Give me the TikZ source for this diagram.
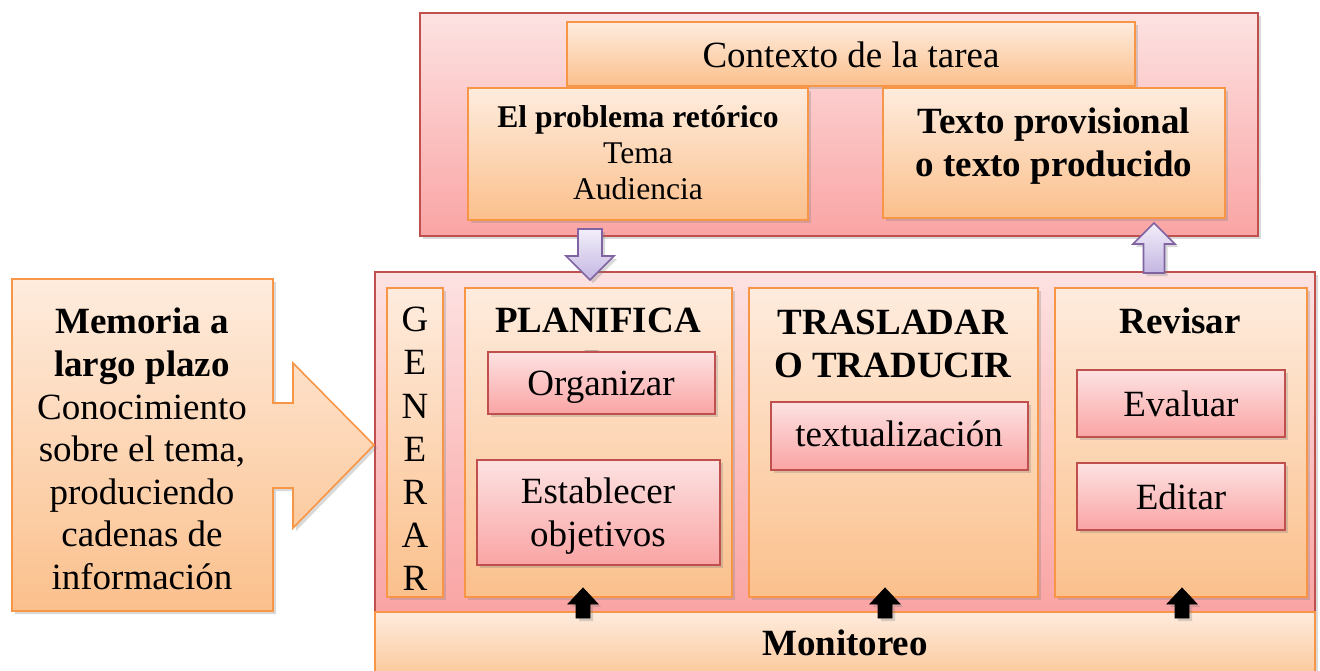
\documentclass[tikz,border=0pt]{standalone}
\usepackage{fontspec}
\setmainfont{Liberation Serif}
\usetikzlibrary{calc,fit,shadows}

\definecolor{boxred}{RGB}{192,80,77}
\definecolor{boxorange}{RGB}{247,150,70}
\definecolor{pinktop}{RGB}{253,226,226}
\definecolor{pinkbot}{RGB}{250,164,164}
\definecolor{peachtop}{RGB}{254,236,222}
\definecolor{peachbot}{RGB}{251,192,140}
\definecolor{lilactop}{RGB}{242,238,250}
\definecolor{lilacbot}{RGB}{196,182,226}
\definecolor{lilacline}{RGB}{128,100,162}

\def\blockarrow[#1](#2)(#3:#4:#5:#6){\draw[#1] (#2) -- ++({#4},{#5}) -- ++({(#3)-(#4)},0) -- ++(0,{(#6)-(#5)}) -- ++({-2*(#3)},0) -- ++(0,{(#5)-(#6)}) -- ++({(#3)-(#4)},0) -- cycle;}

\tikzset{
  softshadow/.style={drop shadow={opacity=0.3, shadow xshift=1.5pt, shadow yshift=-1.5pt}},
  pinkpanel/.style={draw=boxred, line width=0.8pt, top color=pinktop, bottom color=pinkbot, softshadow},
  peachpanel/.style={draw=boxorange, line width=0.8pt, top color=peachtop, bottom color=peachbot, softshadow},
  redbox/.style={draw=boxred, line width=0.8pt, top color=pinktop, bottom color=pinkbot, softshadow},
  lilacarrow/.style={draw=lilacline, line width=0.8pt, top color=lilactop, bottom color=lilacbot, softshadow},
  blackarrow/.style={fill=black, softshadow},
  bigtext/.style={font=\fontsize{18.5}{21.3}\selectfont, align=center, inner sep=0pt},
  bigbold/.style={font=\fontsize{18.5}{21.5}\selectfont\bfseries, align=center, inner sep=0pt},
  smalltext/.style={font=\fontsize{15.8}{18}\selectfont, align=center, inner sep=0pt},
}

\begin{document}
\begin{tikzpicture}[x=0.5pt, y=-0.5pt]
		%%%%% START %%%%%
		\useasboundingbox (0,0) rectangle (1320,670);
		\clip (0,0) rectangle (1320,670);
		
		% task context
		\node[pinkpanel, fit={(420,13) (1258,236)}, inner sep=0pt] (task) {};
		\node[peachpanel, fit={(567,22) (1135,86)}, inner sep=0pt] (ctx) {};
		\node[peachpanel, fit={(468,88) (808,220)}, inner sep=0pt] (prob) {};
		\node[peachpanel, fit={(883,88) (1225,218)}, inner sep=0pt] (draft) {};
		\node[bigtext, anchor=base] (ctxlbl) at (851,67) {Contexto de la tarea};
		\node[smalltext] (problbl) at (638,153) {\textbf{El problema retórico}\\Tema\\Audiencia};
		\node[bigbold] (draftlbl) at (1054,146) {Texto provisional\\o texto producido};
		
		% writing process
		\node[pinkpanel, fit={(375,272) (1315,612)}, inner sep=0pt] (proc) {};
		\node[peachpanel, fit={(387,288) (443,597)}, inner sep=0pt] (gen) {};
		\node[peachpanel, fit={(465,288) (732,597)}, inner sep=0pt] (plan) {};
		\node[peachpanel, fit={(749,288) (1038,597)}, inner sep=0pt] (trans) {};
		\node[peachpanel, fit={(1055,288) (1307,597)}, inner sep=0pt] (rev) {};
		
		\coordinate (probtip) at (590,280);
		\coordinate (drafttip) at (1154,223);
		\blockarrow[lilacarrow](probtip)(12:24:-24:-51);
		\blockarrow[lilacarrow](drafttip)(10.5:21:21:50);
		
		\begin{scope}
			\clip (387,288) rectangle (443,597);
			\node[font=\fontsize{18.5}{21.6}\selectfont, align=center, inner sep=0pt] (genlbl) at (415,449) {G\\E\\N\\E\\R\\A\\R};
		\end{scope}
		\node[bigbold] (planlbl) at (598,342) {PLANIFICA\\R};
		\node[bigbold] (translbl) at (893,344) {TRASLADAR\\O TRADUCIR};
		\node[bigbold, anchor=base] (revlbl) at (1180,333) {Revisar};
		
		\node[redbox, fit={(488,352) (715,414)}, inner sep=0pt] (org) {};
		\node[redbox, fit={(477,460) (720,565)}, inner sep=0pt] (goals) {};
		\node[redbox, fit={(771,402) (1028,470)}, inner sep=0pt] (textu) {};
		\node[redbox, fit={(1077,370) (1285,437)}, inner sep=0pt] (eval) {};
		\node[redbox, fit={(1077,463) (1285,530)}, inner sep=0pt] (edit) {};
		\node[bigtext, anchor=base] (orglbl) at (601,395) {Organizar};
		\node[bigtext] (goalslbl) at (598,516) {Establecer\\objetivos};
		\node[bigtext, anchor=base] (textulbl) at (899,446) {textualización};
		\node[bigtext, anchor=base] (evallbl) at (1181,416) {Evaluar};
		\node[bigtext, anchor=base] (editlbl) at (1181,509) {Editar};
		
		% monitoring
		\node[peachpanel, fit={(375,612) (1315,690)}, inner sep=0pt] (monitor) {};
		\node[bigbold, anchor=base] (monlbl) at (845,655) {Monitoreo};
		
		\coordinate (plantip) at (583,588);
		\coordinate (transtip) at (885,588);
		\coordinate (revtip) at (1182,588);
		\blockarrow[blackarrow](plantip)(7:15:16:30);
		\blockarrow[blackarrow](transtip)(7:15:16:30);
		\blockarrow[blackarrow](revtip)(7:15:16:30);
		
		% long-term memory
		\draw[peachpanel] (12,279) -- (273,279) -- (273,403) -- (293,403) -- (293,363) -- (374,445) -- (293,528) -- (293,488) -- (273,488) -- (273,611) -- (12,611) -- cycle;
		\node[bigtext] (ltm) at (142,449) {\textbf{Memoria a}\\\textbf{largo plazo}\\Conocimiento\\sobre el tema,\\produciendo\\cadenas de\\información};
		
		%%%%% END %%%%%
\end{tikzpicture}
\end{document}
